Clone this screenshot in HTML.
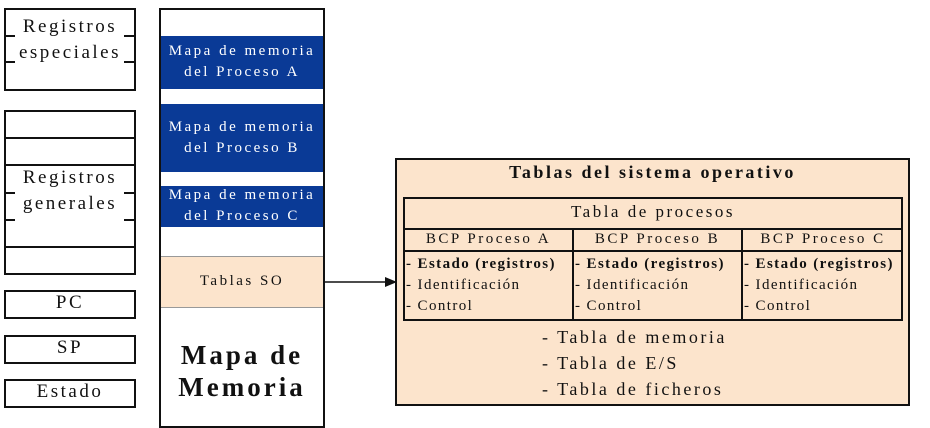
<!DOCTYPE html>
<html><head><meta charset="utf-8"><style>
body{margin:0;width:930px;height:413px;background:#fff;position:relative;overflow:hidden;font-family:"Liberation Serif",serif;}
.a{position:absolute;box-sizing:border-box;}
.bx{border:2px solid #111;background:#fff;}
.t{position:absolute;white-space:nowrap;color:#111;letter-spacing:2.5px;font-size:15px;}
.c{text-align:center;}
.blue{background:#0a3a96;}
.peach{background:#fce4cc;}
.tick{position:absolute;height:1.5px;background:#111;width:10px;}
</style></head><body>
<div class="a bx" style="left:4px;top:8px;width:132px;height:83px;"></div>
<div class="t c" style="left:4px;width:132px;top:16px;font-size:19px;">Registros</div>
<div class="t c" style="left:4px;width:132px;top:42px;font-size:19px;">especiales</div>
<div class="tick" style="left:5px;top:35px;"></div><div class="tick" style="left:124px;top:35px;"></div>
<div class="tick" style="left:5px;top:61px;"></div><div class="tick" style="left:124px;top:61px;"></div>
<div class="a bx" style="left:4px;top:110px;width:132px;height:165px;"></div>
<div class="a" style="left:4px;top:137px;width:132px;height:2px;background:#111"></div>
<div class="a" style="left:4px;top:164px;width:132px;height:2px;background:#111"></div>
<div class="a" style="left:4px;top:246px;width:132px;height:2px;background:#111"></div>
<div class="t c" style="left:4px;width:132px;top:167px;font-size:19px;">Registros</div>
<div class="t c" style="left:4px;width:132px;top:193px;font-size:19px;">generales</div>
<div class="tick" style="left:5px;top:192px;"></div><div class="tick" style="left:124px;top:192px;"></div>
<div class="tick" style="left:5px;top:219px;"></div><div class="tick" style="left:124px;top:219px;"></div>
<div class="a bx" style="left:4px;top:290px;width:132px;height:29px;"></div>
<div class="t c" style="left:4px;width:132px;top:292px;font-size:19px;">PC</div>
<div class="a bx" style="left:4px;top:335px;width:132px;height:29px;"></div>
<div class="t c" style="left:4px;width:132px;top:337px;font-size:19px;">SP</div>
<div class="a bx" style="left:4px;top:379px;width:132px;height:29px;"></div>
<div class="t c" style="left:4px;width:132px;top:381px;font-size:19px;">Estado</div>
<div class="a bx" style="left:159px;top:8px;width:166px;height:420px;"></div>
<div class="a blue" style="left:161px;top:36px;width:162px;height:53px;"></div>
<div class="t c" style="left:161px;width:162px;top:41px;color:#fff;font-size:15px;line-height:21px;">Mapa de memoria<br>del Proceso A</div>
<div class="a blue" style="left:161px;top:104px;width:162px;height:68px;"></div>
<div class="t c" style="left:161px;width:162px;top:117px;color:#fff;font-size:15px;line-height:21px;">Mapa de memoria<br>del Proceso B</div>
<div class="a blue" style="left:161px;top:186px;width:162px;height:41px;"></div>
<div class="t c" style="left:161px;width:162px;top:185px;color:#fff;font-size:15px;line-height:21px;">Mapa de memoria<br>del Proceso C</div>
<div class="a peach" style="left:161px;top:256px;width:162px;height:52px;border-top:1px solid #999;border-bottom:1px solid #999;"></div>
<div class="t c" style="left:161px;width:162px;top:273px;font-size:15px;">Tablas SO</div>
<div class="t c" style="left:161px;width:162px;top:339px;font-size:27px;font-weight:bold;line-height:32px;letter-spacing:3px;">Mapa de<br>Memoria</div>
<svg class="a" style="left:323px;top:274px" width="76" height="16"><line x1="0" y1="8" x2="64" y2="8" stroke="#111" stroke-width="1.5"/><polygon points="62,3 74,8 62,13" fill="#111"/></svg>
<div class="a bx peach" style="left:395px;top:158px;width:515px;height:248px;"></div>
<div class="t c" style="left:395px;width:515px;top:162px;font-size:18px;font-weight:bold;">Tablas del sistema operativo</div>
<div class="a" style="left:403px;top:197px;width:500px;height:124px;border:2px solid #111;"></div>
<div class="a" style="left:403px;top:228px;width:500px;height:2px;background:#111"></div>
<div class="a" style="left:403px;top:250px;width:500px;height:2px;background:#111"></div>
<div class="a" style="left:572px;top:229px;width:2px;height:92px;background:#111"></div>
<div class="a" style="left:741px;top:229px;width:2px;height:92px;background:#111"></div>
<div class="t c" style="left:403px;width:500px;top:202px;font-size:17px;">Tabla de procesos</div>
<div class="t c" style="left:405px;width:167px;top:231px;font-size:15px;">BCP Proceso A</div>
<div class="t c" style="left:574px;width:167px;top:231px;font-size:15px;">BCP Proceso B</div>
<div class="t c" style="left:743px;width:160px;top:231px;font-size:15px;">BCP Proceso C</div>
<div class="t" style="left:406px;top:254px;font-size:15px;line-height:21px;letter-spacing:1.4px;"><b>- Estado (registros)</b><br>- Identificación<br>- Control</div>
<div class="t" style="left:575px;top:254px;font-size:15px;line-height:21px;letter-spacing:1.4px;"><b>- Estado (registros)</b><br>- Identificación<br>- Control</div>
<div class="t" style="left:744px;top:254px;font-size:15px;line-height:21px;letter-spacing:1.4px;"><b>- Estado (registros)</b><br>- Identificación<br>- Control</div>
<div class="t" style="left:542px;top:324px;font-size:18px;line-height:26px;">- Tabla de memoria<br>- Tabla de E/S<br>- Tabla de ficheros</div>
</body></html>
